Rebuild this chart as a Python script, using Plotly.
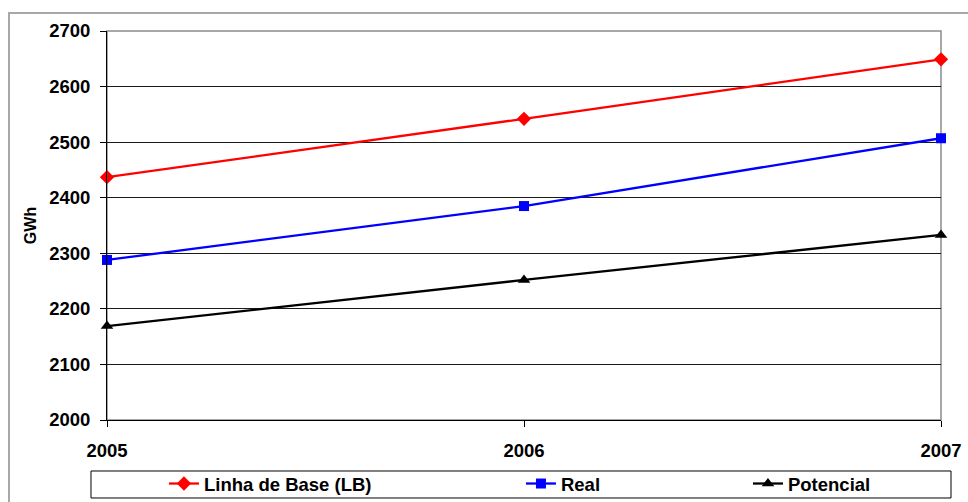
import plotly.graph_objects as go

# Annual energy series (GWh)
years = [2005, 2006, 2007]
linha_base = [2437, 2542, 2649]
real = [2288, 2385, 2507]
potencial = [2169, 2252, 2333]

series_names = ["Linha de Base (LB)", "Real", "Potencial"]
y_ticks = [2000, 2100, 2200, 2300, 2400, 2500, 2600, 2700]

FONT = "Liberation Sans, Arial, sans-serif"

fig = go.Figure()

styles = [
    (linha_base, "#ff0000", "diamond", 11, 312),
    (real, "#0000ff", "square", 10, 182),
    (potencial, "#000000", "triangle-up", 11, 130),
]
for name, (vals, color, symbol, msize, lw) in zip(series_names, styles):
    fig.add_trace(go.Scatter(
        x=years, y=vals, name=name, mode="lines+markers",
        line=dict(color=color, width=2.3),
        marker=dict(symbol=symbol, size=msize, color=color),
        legendwidth=lw,
        cliponaxis=False,
    ))

# plot-area frame (gray top/right edges) and outer chart border
fig.add_shape(type="rect", xref="paper", yref="paper", x0=0, x1=1, y0=0, y1=1,
              line=dict(color="#8c8c8c", width=1.5), layer="between")
fig.add_shape(type="rect", xref="paper", yref="paper",
              x0=-0.1175, x1=1.08, y0=-0.3, y1=1.046,
              line=dict(color="#a8a8a8", width=2), layer="below")
# legend frame
fig.add_shape(type="rect", xref="paper", yref="paper",
              x0=-0.0192, x1=1.012, y0=-0.2005, y1=-0.1311,
              line=dict(color="black", width=1), layer="above")

fig.update_layout(
    width=968, height=502,
    margin=dict(l=107, r=27, t=31, b=82, autoexpand=False),
    paper_bgcolor="white", plot_bgcolor="white",
    font=dict(family=FONT, color="black"),
    showlegend=True,
    legend=dict(
        orientation="h", x=0.0683, xanchor="left", y=-0.1645, yanchor="middle",
        borderwidth=0, bgcolor="rgba(0,0,0,0)",
        font=dict(family=FONT, size=18.5, color="black", weight="bold"),
        itemwidth=30,
    ),
)

fig.update_xaxes(
    range=[2005, 2007], tickvals=years, ticktext=[str(y) for y in years],
    showgrid=False, zeroline=False,
    showline=True, linecolor="black", linewidth=1,
    ticks="outside", ticklen=6, tickcolor="black",
    ticklabelstandoff=8,
    tickfont=dict(family=FONT, size=18.5, color="black", weight="bold"),
)
fig.update_yaxes(
    range=[2000, 2700], tickvals=y_ticks,
    showgrid=True, gridcolor="#1a1a1a", gridwidth=1, zeroline=False,
    showline=True, linecolor="black", linewidth=1,
    ticks="outside", ticklen=6, tickcolor="black",
    ticklabelstandoff=6,
    tickfont=dict(family=FONT, size=18.5, color="black", weight="bold"),
    title=dict(text="GWh", standoff=8,
               font=dict(family=FONT, size=16, color="black", weight="bold")),
)

fig.write_html("out.html")
